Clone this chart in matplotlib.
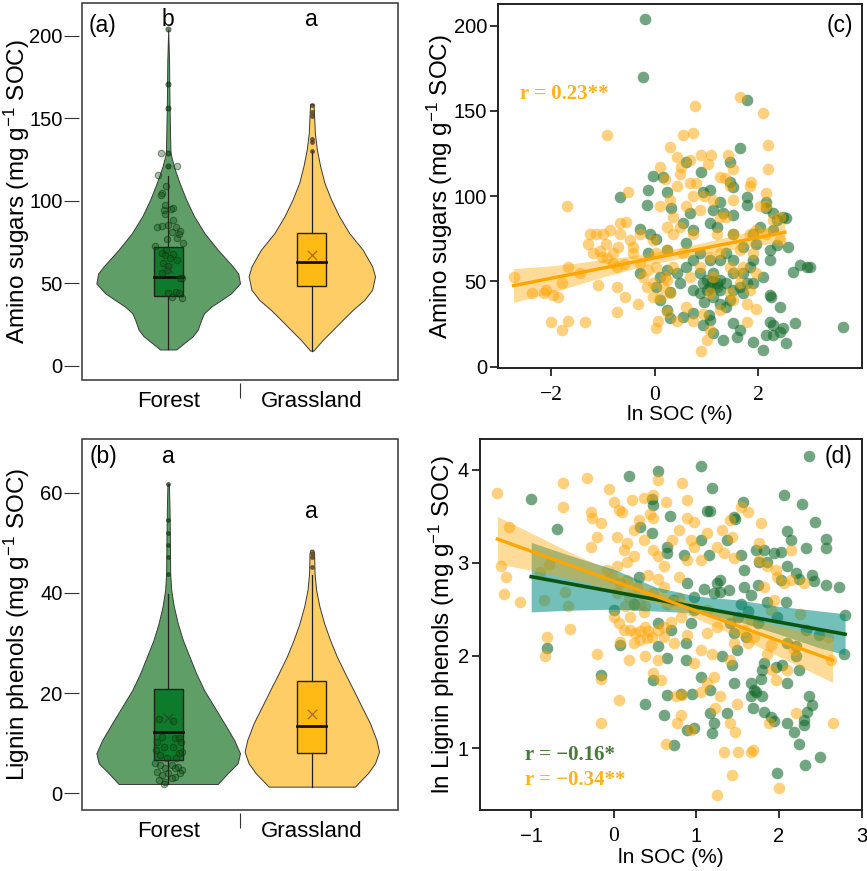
import numpy as np
import matplotlib
matplotlib.use("Agg")
import matplotlib.pyplot as plt
from matplotlib.patches import Rectangle

plt.rcParams['font.family'] = ['Liberation Sans', 'DejaVu Sans']
plt.rcParams['mathtext.fontset'] = 'custom'
plt.rcParams['mathtext.rm'] = 'Liberation Sans'
plt.rcParams['mathtext.it'] = 'Liberation Sans:italic'
plt.rcParams['mathtext.bf'] = 'Liberation Sans:bold'

# ---------------- data ----------------
groups = ['Forest', 'Grassland']

# (a) amino sugars violins: value levels and relative density
a_forest_v = [10, 14, 18, 22, 28, 32, 36, 40, 44, 50, 56, 60.4, 70.5, 80.6, 90.8, 100.9, 111, 121, 129, 141, 160, 185, 204]
a_forest_d = [0.112, 0.226, 0.342, 0.412, 0.46, 0.5, 0.6, 0.74, 0.875, 1.0, 0.976, 0.898, 0.69, 0.504, 0.36, 0.25, 0.158, 0.078, 0.032, 0.026, 0.018, 0.012, 0.0]
a_grass_v = [9.3, 10.7, 15.8, 21.9, 28, 34, 40.1, 46.2, 54.3, 60.4, 70.5, 80.6, 90.8, 100.9, 111, 121.2, 131.3, 141.4, 151.6, 158.7]
a_grass_d = [0.024, 0.05, 0.152, 0.292, 0.43, 0.57, 0.732, 0.84, 0.88, 0.84, 0.708, 0.52, 0.38, 0.268, 0.176, 0.116, 0.07, 0.042, 0.032, 0.024]
a_q1 = [42.5, 48.2]
a_med = [53.7, 63.0]
a_q3 = [72.1, 80.6]
a_wlo = [10.0, 9.3]
a_whi = [115.0, 130.3]
a_mean = [59.4, 67.3]
a_forest_out = [121.2, 128.9, 156.6, 170.8, 204]
a_grass_out = [130.3, 136, 137.5, 151.5, 154, 158]
a_jit_dx = [-0.049, 0.06, -0.072, -0.014, -0.04, -0.05, -0.02, -0.028, 0.02, 0.037, -0.025, 0.035, -0.079, -0.04, 0.0,
            0.056, 0.083, 0.076, 0.03, -0.01, 0.06, 0.1, -0.095, -0.014, -0.046, -0.025, 0.035, 0.06, 0.01, -0.035,
            0.0, -0.01, -0.04, 0.08, 0.095, 0.055, 0.074, 0.093, 0.0, 0.03]
a_jit_v = [128.9, 121.2, 115.5, 109, 105, 103.7, 97.6, 94.4, 95, 95.6, 92, 88.4, 84.3, 85, 85.5,
           84.5, 82, 80, 81, 77, 77.6, 74.4, 72.5, 70.5, 68.5, 67.3, 67.7, 64.4, 65.6, 62.4,
           60.4, 58.4, 56.3, 53.5, 53.1, 44.6, 44.2, 41.5, 44.2, 42]
a_letters = ['b', 'a']
a_letter_y = [210, 210]

# (b) lignin phenols violins
b_forest_v = [1.86, 4.0, 6.0, 8.0, 10.6, 14.0, 17.3, 20.6, 24, 27.3, 30.6, 33.9, 37.3, 40.6, 43.9, 50.6, 57.2, 61.7]
b_forest_d = [0.69, 0.828, 0.968, 1.0, 0.92, 0.78, 0.64, 0.5, 0.388, 0.296, 0.204, 0.134, 0.078, 0.042, 0.028, 0.024, 0.018, 0.01]
b_grass_v = [1.33, 4.0, 6.0, 8.3, 10.6, 14.0, 17.3, 20.6, 24, 27.3, 30.6, 33.9, 37.3, 40.6, 43.9, 47.9, 48.6]
b_grass_d = [0.6, 0.78, 0.88, 0.936, 0.9, 0.81, 0.694, 0.58, 0.46, 0.348, 0.254, 0.172, 0.106, 0.06, 0.038, 0.032, 0.02]
b_q1 = [6.65, 8.0]
b_med = [12.3, 13.5]
b_q3 = [20.8, 22.4]
b_wlo = [1.9, 1.33]
b_whi = [39.8, 43.6]
b_mean = [15.1, 15.8]
b_forest_out = [43.8, 47.1, 49.6, 52.0, 54.6, 61.7]
b_grass_out = [45.1, 47.1, 48.0]
b_jit_dx = [-0.067, 0.037, -0.044, -0.079, 0.05, 0.076, 0.09, -0.032, -0.083, 0.037, 0.072, 0.095, -0.058, -0.01, 0.053,
            -0.09, -0.056, -0.02, 0.025, 0.067, 0.095, -0.08, -0.044, 0.0, 0.044, 0.083, -0.062, -0.02, 0.03, -0.032, 0.05]
b_jit_v = [14.8, 14.4, 11.3, 10.3, 11, 11, 10.3, 9.3, 8.6, 9.3, 8.0, 8.3, 7.7, 7, 7,
           6, 5.7, 5, 5.7, 5.3, 4.7, 4.3, 3.7, 4, 3.3, 4, 2.7, 2.3, 3, 1.9, 5]
b_letters = ['a', 'a']
b_letter_y = [67.2, 56.2]

# (c) amino sugars vs ln SOC
c_grass = [(-2.73, 52.8), (-2.38, 43), (-2.15, 43), (-1.97, 42), (-1.88, 40.7), (-2.0, 26), (-1.8, 21.5), (-1.67, 27),
           (-1.35, 26.4), (-1.8, 49), (-1.67, 58.6), (-1.7, 94), (-0.93, 136), (-1.09, 48), (-1.14, 78), (-1.0, 78),
           (-0.87, 80), (-1.06, 68), (-0.93, 63.5), (-0.74, 47), (-0.8, 60.6), (-0.71, 70), (-0.68, 84), (-0.51, 102.6),
           (-0.74, 32), (-0.58, 41), (-0.32, 37), (-0.48, 74), (-0.42, 66.5), (-0.29, 60.6), (-0.16, 47), (-0.23, 52.8),
           (0.03, 22.5), (0.06, 27), (-0.03, 41), (0.1, 40), (0.03, 66.5), (0.1, 94), (0.1, 117), (0.29, 129),
           (0.42, 123), (0.55, 136), (0.74, 137), (0.77, 153), (0.48, 113), (0.51, 117), (0.68, 107.5), (0.8, 107.5),
           (0.87, 92), (0.9, 124), (1.09, 124), (1.03, 119), (1.25, 111), (1.35, 110.5), (1.41, 124), (1.51, 116),
           (1.64, 158), (2.09, 148.6), (2.19, 130), (2.19, 116), (1.86, 108.5), (2.15, 101.6), (0.35, 78), (0.23, 82),
           (0.48, 82), (0.35, 88), (0.61, 94), (0.74, 78), (0.55, 66.5), (0.35, 58.6), (0.19, 52.8), (0.16, 47),
           (0.29, 43), (0.23, 32), (0.42, 27), (0.03, 58.6), (-0.03, 74), (0.87, 58.6), (1.06, 64.5), (1.25, 66.5),
           (1.19, 78), (1.38, 88), (1.51, 78), (1.7, 58.6), (1.9, 66.5), (1.96, 55), (1.83, 45), (1.77, 37),
           (1.96, 34), (1.77, 26), (1.51, 39), (1.64, 49), (1.45, 43), (1.25, 33), (1.06, 43), (0.93, 31),
           (1.06, 21.5), (0.9, 9), (1.0, 15.6), (0.74, 27), (0.61, 35), (2.15, 94), (2.28, 86), (2.41, 74),
           (2.15, 78), (1.96, 80), (1.83, 78), (1.64, 68.4), (2.41, 88), (2.03, 94), (1.83, 105.7), (1.45, 105.7),
           (1.51, 98), (1.13, 98), (1.25, 88), (0.74, 100), (0.42, 105.7), (0.29, 98), (0.68, 121), (0.23, 68.5),
           (1.58, 55), (1.45, 58.6), (1.13, 52.8), (0.68, 52.8), (0.23, 51), (-0.03, 49), (-0.13, 56.7), (-0.74, 58.6),
           (-1.03, 64.5), (-0.8, 66.5), (-1.19, 66.5), (-1.25, 78), (-0.68, 78), (-0.29, 78), (-0.42, 70),
           (-1.3, 72), (-0.95, 72), (-0.6, 60), (-0.55, 85), (-1.45, 55), (-2.1, 45), (0.2, 110), (0.95, 100)]
c_forest = [(-0.19, 204), (-0.23, 170), (1.77, 156.4), (1.64, 128), (1.45, 120), (0.61, 120), (0.9, 114), (-0.03, 112),
            (0.16, 111), (-0.13, 103.6), (0.23, 102.6), (-0.16, 94.8), (-0.68, 99.7), (0.93, 102.6), (1.06, 103.6),
            (1.45, 108.5), (1.51, 105.6), (1.25, 96.8), (1.13, 91.9), (1.77, 99.7), (1.77, 94.8), (2.15, 96.8),
            (2.15, 92.9), (2.28, 90), (2.48, 88), (2.54, 87), (0.32, 92.9), (0.55, 84), (0.74, 80), (1.06, 84),
            (1.19, 82), (0.61, 72.3), (-0.29, 81), (-0.1, 78), (0.03, 75), (0.23, 68.5), (-0.13, 66.5), (1.51, 78),
            (1.7, 70.4), (1.9, 62.5), (2.22, 62.5), (2.22, 68.4), (2.35, 71.4), (2.57, 70.4), (2.67, 55.7), (2.8, 59.6),
            (2.93, 58.6), (2.99, 58.6), (2.09, 52.8), (2.22, 42), (2.25, 41), (2.41, 35), (3.63, 23.5), (2.7, 25.4),
            (2.22, 26.4), (2.28, 24.4), (2.48, 22.5), (2.41, 20.5), (2.28, 18.6), (2.15, 18.6), (2.54, 13.7),
            (2.09, 9.8), (1.9, 14.7), (1.58, 17.6), (1.32, 15.6), (1.64, 21.5), (1.51, 25.4), (1.13, 19.5), (1.06, 27.4),
            (0.93, 24.4), (0.74, 31.3), (0.55, 29.3), (0.29, 28.3), (0.23, 33.2), (0.1, 39), (0.29, 44), (0.48, 49),
            (0.74, 45), (0.87, 43), (0.93, 49), (1.06, 47), (1.19, 49), (1.25, 51), (1.38, 49), (1.51, 45), (1.64, 47),
            (1.77, 49), (1.9, 49), (1.13, 41), (1.25, 37), (1.38, 35), (1.45, 39), (1.7, 43), (1.83, 58.6), (1.7, 55),
            (1.25, 62.5), (1.38, 66.5), (1.51, 62.5), (1.06, 62.5), (0.87, 66.5), (0.74, 62.5), (0.61, 58.6),
            (0.42, 55), (0.23, 56.7), (0.1, 52.8), (-0.29, 55), (0.03, 47), (0.87, 55), (1.13, 55), (1.0, 51),
            (1.25, 45), (1.51, 55), (2.03, 82), (2.28, 80), (2.35, 86), (1.96, 72), (1.9, 78), (0.68, 90), (1.32, 90),
            (1.51, 89), (1.0, 45), (1.1, 50), (1.2, 47), (0.95, 38), (1.05, 30)]
c_fit_x = [-2.73, 2.51]
c_fit_y = [47.5, 78.8]
c_band_x = [-2.73, -2.0, -1.5, -1.0, -0.5, 0.0, 0.5, 1.0, 1.5, 2.0, 2.51]
c_band_lo = [37.7, 43.3, 48.0, 52.7, 56.7, 60.5, 63.6, 66.4, 68.7, 71.0, 73.5]
c_band_hi = [57.5, 59.1, 60.8, 62.9, 64.7, 67.1, 69.8, 73.2, 76.7, 80.6, 84.3]

# (d) ln lignin phenols vs ln SOC
d_forest = [(2.36, 4.15), (1.06, 4.04), (0.53, 3.99), (0.19, 3.93), (1.19, 3.81), (-1.0, 3.69), (-0.69, 3.36), (0.46, 3.69),
            (0.48, 3.62), (1.13, 3.56), (1.17, 3.56), (1.56, 3.66), (2.06, 3.73), (2.28, 3.63), (2.44, 3.44), (1.45, 3.49),
            (1.47, 3.47), (0.68, 3.5), (0.32, 3.39), (0.46, 3.32), (1.37, 3.25), (2.1, 3.34), (2.14, 3.25), (2.57, 3.26),
            (2.57, 3.16), (2.33, 3.16), (2.02, 3.12), (1.94, 3.1), (1.82, 3.14), (1.72, 3.14), (1.86, 3.01), (1.76, 3.01),
            (0.65, 3.17), (0.65, 3.1), (0.85, 3.08), (1.15, 3.08), (1.05, 3.25), (1.54, 3.08), (1.58, 2.92), (2.1, 2.96),
            (2.2, 2.89), (2.24, 2.83), (2.4, 2.87), (2.42, 2.8), (2.57, 2.76), (2.73, 2.74), (2.02, 2.81), (1.74, 2.76),
            (1.66, 2.65), (1.58, 2.74), (1.86, 2.58), (2.08, 2.58), (1.98, 2.42), (2.33, 2.28), (2.48, 2.22), (2.8, 2.44),
            (2.79, 2.02), (2.1, 2.13), (2.2, 2.1), (2.2, 1.99), (2.24, 1.84), (2.04, 1.9), (1.96, 1.88), (1.82, 1.92),
            (1.8, 1.84), (1.78, 1.75), (1.66, 1.7), (1.7, 1.63), (1.72, 1.61), (1.66, 1.56), (1.8, 1.56), (1.68, 1.43),
            (1.82, 1.39), (1.9, 1.34), (1.94, 1.29), (2.1, 1.27), (2.18, 1.18), (2.24, 1.05), (2.3, 1.3), (2.34, 1.39),
            (2.36, 1.56), (2.4, 1.47), (2.3, 1.25), (2.32, 0.82), (2.5, 0.91), (1.97, 0.73), (2.1, 1.7), (1.45, 1.7),
            (1.43, 1.9), (1.31, 2.0), (1.49, 2.06), (1.45, 2.24), (1.41, 2.35), (1.5, 2.42), (1.62, 2.48), (1.54, 2.56),
            (1.29, 2.69), (1.25, 2.78), (1.29, 2.81), (1.39, 2.71), (1.21, 2.67), (1.09, 2.72), (0.97, 2.63), (0.89, 2.78),
            (0.97, 2.49), (0.93, 2.35), (0.87, 2.13), (0.87, 1.95), (1.05, 1.77), (0.95, 1.59), (0.81, 1.59), (0.65, 1.57),
            (0.61, 1.36), (0.48, 1.74), (0.38, 1.48), (0.53, 2.1), (0.65, 1.97), (0.69, 2.28), (0.53, 2.35), (0.24, 2.56),
            (0.08, 2.11), (0.0, 2.49), (-0.16, 1.79), (-0.81, 2.08), (0.73, 1.04), (0.97, 1.22), (0.89, 1.2), (1.21, 1.27),
            (1.19, 1.16), (1.37, 1.38), (1.17, 1.63), (1.17, 1.38), (0.3, 2.85), (0.72, 2.6), (1.6, 2.2), (1.75, 2.35)]
d_grass = [(-1.41, 3.75), (-1.27, 3.39), (-1.36, 2.96), (-1.3, 2.85), (-1.33, 2.66), (-1.14, 2.58), (-0.89, 2.9), (-0.79, 2.99),
           (-0.85, 2.6), (-0.59, 2.69), (-0.55, 2.53), (-0.53, 2.29), (-0.81, 2.2), (-0.83, 1.99), (-0.61, 3.86), (-0.61, 3.6),
           (-0.32, 3.91), (-0.06, 3.8), (-0.28, 3.55), (-0.26, 3.48), (-0.2, 3.28), (-0.28, 3.17), (-0.16, 3.43), (0.0, 3.66),
           (0.06, 3.57), (0.1, 3.55), (0.22, 3.68), (0.36, 3.7), (0.53, 3.89), (0.48, 3.73), (0.63, 3.66), (0.83, 3.86),
           (0.89, 3.68), (0.89, 3.48), (0.97, 3.44), (0.79, 3.35), (0.3, 3.46), (0.44, 3.53), (0.48, 3.48), (0.24, 3.35),
           (0.36, 3.25), (0.04, 3.28), (0.16, 3.21), (0.12, 3.14), (0.24, 3.07), (0.16, 3.01), (0.04, 2.96), (-0.08, 2.92),
           (-0.02, 2.85), (0.48, 3.14), (0.53, 3.07), (0.61, 2.96), (0.42, 2.87), (0.53, 2.83), (0.71, 3.25), (0.93, 3.25),
           (0.97, 3.17), (0.89, 3.03), (1.05, 3.03), (1.13, 3.32), (1.25, 3.17), (1.31, 3.35), (1.41, 3.46), (1.43, 3.28),
           (1.54, 3.6), (1.62, 3.55), (1.45, 3.05), (1.33, 3.1), (1.78, 3.43), (1.76, 3.21), (1.76, 3.03), (1.86, 2.96),
           (1.96, 2.92), (1.98, 2.85), (2.14, 3.14), (2.06, 2.78), (1.94, 2.6), (1.82, 2.74), (1.9, 2.49), (1.66, 2.38),
           (1.7, 2.2), (1.58, 2.28), (1.62, 2.13), (1.45, 2.13), (1.41, 1.95), (1.9, 2.11), (1.86, 2.02), (1.92, 1.84),
           (1.96, 1.74), (2.1, 1.84), (2.18, 2.06), (2.2, 1.38), (1.88, 1.27), (2.65, 1.27), (2.0, 0.57), (1.43, 0.71),
           (1.25, 0.5), (1.33, 0.96), (1.5, 0.96), (1.66, 0.96), (1.68, 0.98), (1.41, 1.27), (1.47, 1.18), (1.49, 1.48),
           (1.29, 1.56), (1.21, 1.77), (1.23, 1.43), (1.13, 1.7), (1.05, 1.61), (0.97, 1.92), (1.05, 2.06), (1.13, 2.24),
           (1.19, 2.02), (1.25, 2.31), (1.13, 2.49), (0.89, 2.22), (0.81, 2.42), (0.79, 2.62), (0.65, 2.56), (0.61, 2.74),
           (0.48, 2.67), (0.38, 2.53), (0.32, 2.56), (0.24, 2.54), (0.14, 2.53), (0.2, 2.42), (0.0, 2.42), (0.06, 2.35),
           (0.12, 2.28), (0.2, 2.28), (0.26, 2.24), (0.32, 2.26), (0.38, 2.31), (0.42, 2.26), (0.46, 2.2), (0.4, 2.19),
           (0.32, 2.17), (0.24, 2.13), (0.08, 2.15), (0.53, 2.28), (0.61, 2.31), (0.61, 2.2), (0.69, 2.36), (0.73, 2.13),
           (0.18, 1.95), (0.38, 1.99), (0.53, 1.95), (0.48, 1.81), (0.57, 1.74), (0.75, 1.56), (0.83, 1.57), (0.81, 1.36),
           (0.77, 1.27), (0.93, 1.2), (0.63, 1.05), (0.06, 1.52), (-0.16, 1.75), (-0.2, 2.02), (-0.16, 1.27), (0.18, 2.63),
           (0.04, 2.67), (0.08, 2.78), (0.16, 2.81), (0.28, 2.74), (0.79, 2.85), (0.36, 2.47), (2.14, 2.81), (2.3, 2.78),
           (2.26, 2.45), (2.59, 2.2), (2.63, 1.95)]
d_forest_fit_x = [-1.0, 2.8]
d_forest_fit_y = [2.85, 2.23]
d_forest_band_x = [-1.0, -0.5, 0.0, 0.5, 1.0, 1.5, 2.0, 2.5, 2.8]
d_forest_band_lo = [2.47, 2.49, 2.50, 2.48, 2.46, 2.37, 2.23, 2.08, 2.01]
d_forest_band_hi = [3.22, 3.07, 2.93, 2.74, 2.64, 2.60, 2.53, 2.48, 2.45]
d_grass_fit_x = [-1.41, 2.65]
d_grass_fit_y = [3.256, 1.95]
d_grass_band_x = [-1.41, -1.0, -0.5, 0.0, 0.5, 1.0, 1.5, 2.0, 2.65]
d_grass_band_lo = [2.99, 2.92, 2.82, 2.71, 2.57, 2.40, 2.20, 1.99, 1.71]
d_grass_band_hi = [3.50, 3.32, 3.10, 2.90, 2.71, 2.56, 2.42, 2.32, 2.19]

# ---------------- styles ----------------
GREEN_V = '#5f9e66'
GREEN_BOX = '#0d7a2c'
ORANGE_V = '#ffcd66'
ORANGE_BOX = '#ffbb14'
PT_GREEN = '#156b2c'
PT_ORANGE = '#ffa500'
LINE_GREEN = '#0b560f'
BAND_TEAL = '#008c82'
EDGE = '#333333'

W, H = 867, 871
fig = plt.figure(figsize=(W / 100, H / 100), dpi=100)


def add_ax(l, t, r, b):
    return fig.add_axes([l / W, 1 - b / H, (r - l) / W, (b - t) / H])


axA = add_ax(82, 3, 398, 380)
axC = add_ax(498, 4, 862, 368)
axB = add_ax(82, 439, 398, 810)
axD = add_ax(480, 439, 862, 810)

VW = 0.5
BOXW = 0.1


def style_violin_ax(ax, ylim, yticks):
    ax.set_xlim(0.4, 2.6)
    ax.set_ylim(*ylim)
    for s in ax.spines.values():
        s.set_visible(False)
    ax.spines['left'].set_position(('outward', 2))
    ax.spines['bottom'].set_position(('outward', 2))
    ax.add_patch(Rectangle((0, 0), 1, 1, transform=ax.transAxes, fill=False,
                           lw=1.1, ec=EDGE, clip_on=False, zorder=10))
    ax.set_yticks(yticks)
    ax.tick_params(axis='y', length=10.5, width=0.8, color=EDGE, labelsize=14.5, pad=1.5)
    ax.set_xticks([1, 2], groups)
    ax.tick_params(axis='x', which='major', length=0, labelsize=16, pad=6)
    ax.set_xticks([1.5], minor=True)
    ax.tick_params(axis='x', which='minor', length=11, width=0.8, color=EDGE)


def draw_violins(ax, vs, ds, fills, boxfills, q1, med, q3, wlo, whi, mean, mean_cols):
    for i in range(2):
        pos = i + 1
        v = np.array(vs[i])
        hw = np.array(ds[i]) * VW
        ax.fill_betweenx(v, pos - hw, pos + hw, facecolor=fills[i], edgecolor='#3a3a3a', lw=0.7, zorder=1)
        ax.plot([pos, pos], [wlo[i], whi[i]], color='#222222', lw=0.9, zorder=2)
        ax.add_patch(Rectangle((pos - BOXW, q1[i]), 2 * BOXW, q3[i] - q1[i], facecolor=boxfills[i],
                               edgecolor='#222222', lw=1.0, zorder=3))
        ax.plot([pos - BOXW, pos + BOXW], [med[i], med[i]], color='#111111', lw=2.0, zorder=4)
        ax.scatter([pos], [mean[i]], marker='x', s=45, color=mean_cols[i], lw=0.9, zorder=6)


# ---- panel (a)
style_violin_ax(axA, (-8.5, 220), [0, 50, 100, 150, 200])
draw_violins(axA, [a_forest_v, a_grass_v], [a_forest_d, a_grass_d], [GREEN_V, ORANGE_V],
             [GREEN_BOX, ORANGE_BOX], a_q1, a_med, a_q3, a_wlo, a_whi, a_mean, ['#2a4a2a', '#b06a20'])
axA.scatter(1 + np.array(a_jit_dx), a_jit_v, s=22, facecolor=(0.05, 0.3, 0.08, 0.35),
            edgecolor=(0.05, 0.2, 0.05, 0.55), lw=0.7, zorder=5)
axA.scatter([1] * len(a_forest_out), a_forest_out, s=14, facecolor=(0.05, 0.2, 0.05, 0.6),
            edgecolor=(0.05, 0.15, 0.05, 0.7), lw=0.5, zorder=5)
axA.scatter([2] * len(a_grass_out), a_grass_out, s=12, color='#4a3a20', alpha=0.8, lw=0, zorder=5)
axA.set_ylabel('Amino sugars (mg g$^{-1}$ SOC)', fontsize=17.5, va='center')
axA.yaxis.set_label_coords(-0.207, 0.5)
for i, t in enumerate(a_letters):
    axA.text(i + 1, a_letter_y[i], t, ha='center', va='center', fontsize=16.5)
axA.text(0.022, 0.94, '(a)', transform=axA.transAxes, ha='left', va='center', fontsize=16.5)

# ---- panel (b)
style_violin_ax(axB, (-3.33, 70.7), [0, 20, 40, 60])
draw_violins(axB, [b_forest_v, b_grass_v], [b_forest_d, b_grass_d], [GREEN_V, ORANGE_V],
             [GREEN_BOX, ORANGE_BOX], b_q1, b_med, b_q3, b_wlo, b_whi, b_mean, ['#2a4a2a', '#b06a20'])
axB.scatter(1 + np.array(b_jit_dx), b_jit_v, s=22, facecolor=(0.05, 0.3, 0.08, 0.35),
            edgecolor=(0.05, 0.2, 0.05, 0.55), lw=0.7, zorder=5)
axB.scatter([1] * len(b_forest_out), b_forest_out, s=12, color='#1f3a22', alpha=0.8, lw=0, zorder=5)
axB.scatter([2] * len(b_grass_out), b_grass_out, s=12, color='#4a3a20', alpha=0.8, lw=0, zorder=5)
axB.set_ylabel('Lignin phenols (mg g$^{-1}$ SOC)', fontsize=17.5, va='center')
axB.yaxis.set_label_coords(-0.207, 0.5)
for i, t in enumerate(b_letters):
    axB.text(i + 1, b_letter_y[i], t, ha='center', va='center', fontsize=16.5)
axB.text(0.025, 0.954, '(b)', transform=axB.transAxes, ha='left', va='center', fontsize=16.5)


def style_scatter_ax(ax):
    for s in ax.spines.values():
        s.set_linewidth(1.4)
        s.set_color('#222222')
    ax.tick_params(direction='out', length=6, width=1.3, color='#222222', labelsize=14.5)
    ax.tick_params(axis='y', pad=2)
    ax.tick_params(axis='x', pad=7)


PT_S = 70

# ---- panel (c)
cgx, cgy = zip(*c_grass)
cfx, cfy = zip(*c_forest)
axC.scatter(cfx, cfy, s=PT_S, color=PT_GREEN, alpha=0.6, lw=0, zorder=2)
axC.scatter(cgx, cgy, s=PT_S, color=PT_ORANGE, alpha=0.5, lw=0, zorder=2)
axC.fill_between(c_band_x, c_band_lo, c_band_hi, color=PT_ORANGE, alpha=0.4, lw=0, zorder=3)
axC.plot(c_fit_x, c_fit_y, color=PT_ORANGE, lw=2.4, zorder=4)
axC.set_xlim(-3.03, 4.0)
axC.set_ylim(-0.8, 212.7)
axC.set_xticks([-2, 0, 2])
axC.set_yticks([0, 50, 100, 150, 200])
style_scatter_ax(axC)
for lab in axC.get_xticklabels():
    lab.set_fontfamily('Liberation Serif')
    lab.set_fontsize(15.5)
axC.set_xlabel('ln SOC (%)', fontsize=15, va='center')
axC.xaxis.set_label_coords(0.5, -0.129)
axC.set_ylabel('Amino sugars (mg g$^{-1}$ SOC)', fontsize=17.5, va='center')
axC.yaxis.set_label_coords(-0.159, 0.5)
axC.text(0.06, 0.753, 'r = 0.23**', transform=axC.transAxes, ha='left', va='center',
         fontsize=15, fontweight='bold', family='Liberation Serif', color='#ffb21a')
axC.text(0.975, 0.942, '(c)', transform=axC.transAxes, ha='right', va='center', fontsize=16.5)

# ---- panel (d)
dgx, dgy = zip(*d_grass)
dfx, dfy = zip(*d_forest)
axD.scatter(dfx, dfy, s=PT_S, color=PT_GREEN, alpha=0.6, lw=0, zorder=2)
axD.scatter(dgx, dgy, s=PT_S, color=PT_ORANGE, alpha=0.5, lw=0, zorder=2)
axD.fill_between(d_forest_band_x, d_forest_band_lo, d_forest_band_hi, color=BAND_TEAL, alpha=0.55, lw=0, zorder=3)
axD.fill_between(d_grass_band_x, d_grass_band_lo, d_grass_band_hi, color=PT_ORANGE, alpha=0.4, lw=0, zorder=3)
axD.plot(d_forest_fit_x, d_forest_fit_y, color=LINE_GREEN, lw=2.6, zorder=4)
axD.plot(d_grass_fit_x, d_grass_fit_y, color=PT_ORANGE, lw=2.4, zorder=5)
axD.set_xlim(-1.62, 3.005)
axD.set_ylim(0.335, 4.334)
axD.set_xticks([-1, 0, 1, 2, 3])
axD.set_yticks([1, 2, 3, 4])
style_scatter_ax(axD)
axD.tick_params(axis='x', pad=6)
for lab in axD.get_xticklabels():
    if lab.get_text() == '0':
        lab.set_fontfamily('Liberation Serif')
        lab.set_fontsize(15.5)
axD.set_xlabel('ln SOC (%)', fontsize=15, va='center')
axD.xaxis.set_label_coords(0.5, -0.127)
axD.set_ylabel('ln Lignin phenols (mg g$^{-1}$ SOC)', fontsize=17.5, va='center')
axD.yaxis.set_label_coords(-0.10, 0.5)
axD.text(0.118, 0.148, 'r = \u22120.16*', transform=axD.transAxes, ha='left', va='center',
         fontsize=15, fontweight='bold', family='Liberation Serif', color='#4a7a3a')
axD.text(0.118, 0.081, 'r = \u22120.34**', transform=axD.transAxes, ha='left', va='center',
         fontsize=15, fontweight='bold', family='Liberation Serif', color='#ffb21a')
axD.text(0.976, 0.952, '(d)', transform=axD.transAxes, ha='right', va='center', fontsize=16.5)

fig.savefig('out.png', dpi=100)
